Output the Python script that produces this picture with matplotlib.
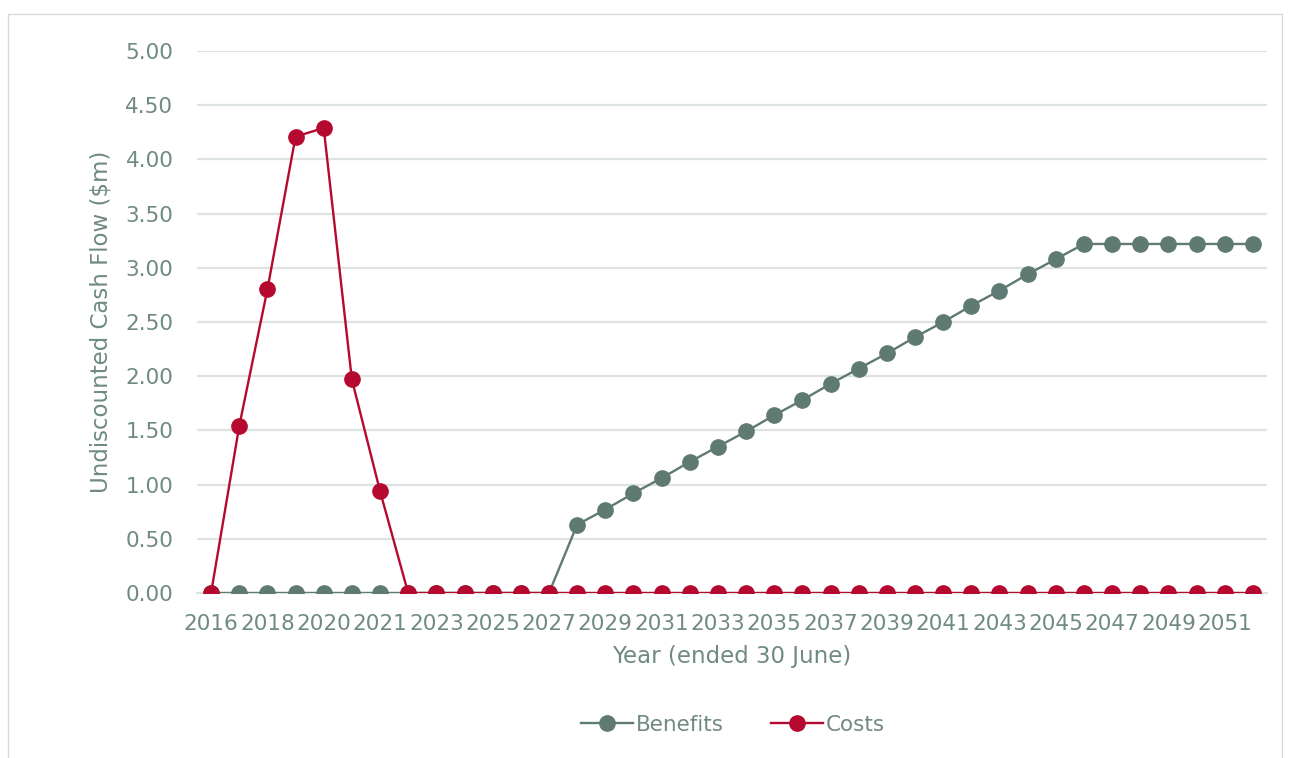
import numpy as np
import matplotlib.pyplot as plt
from matplotlib.patches import Rectangle

# year labels as shown on the category axis (source repeats 2020)
years = ['2016', '2017', '2018', '2019', '2020', '2020', '2021', '2022',
         '2023', '2024', '2025', '2026', '2027', '2028', '2029', '2030',
         '2031', '2032', '2033', '2034', '2035', '2036', '2037', '2038',
         '2039', '2040', '2041', '2042', '2043', '2044', '2045', '2046',
         '2047', '2048', '2049', '2050', '2051', '2052']

benefits = [0, 0, 0, 0, 0, 0, 0, 0, 0, 0, 0, 0, 0,
            0.63, 0.77, 0.92, 1.06, 1.21, 1.35, 1.49, 1.64, 1.78, 1.93,
            2.07, 2.21, 2.36, 2.50, 2.65, 2.79, 2.94, 3.08, 3.22,
            3.22, 3.22, 3.22, 3.22, 3.22, 3.22]

costs = [0, 1.54, 2.80, 4.21, 4.29, 1.97, 0.94] + [0] * 31

yticks = [0, 0.5, 1.0, 1.5, 2.0, 2.5, 3.0, 3.5, 4.0, 4.5, 5.0]

text_col = '#6f8a83'
ben_col = '#5f7a72'
cost_col = '#b5092f'
grid_col = '#dde3e1'

fig = plt.figure(figsize=(12.92, 7.58), dpi=100)
ax = fig.add_axes([197 / 1292, 1 - 593 / 758, (1267 - 197) / 1292, (593 - 51) / 758])

x = np.arange(len(years))
ax.plot(x, benefits, '-o', color=ben_col, lw=1.7, ms=11, label='Benefits', zorder=3)
ax.plot(x, costs, '-o', color=cost_col, lw=1.7, ms=11, label='Costs', zorder=4)

ax.set_xlim(-0.5, len(years) - 0.5)
ax.set_ylim(0, 5.0)
ax.set_yticks(yticks)
ax.set_yticklabels(['%.2f' % v for v in yticks])
ax.set_xticks(x[::2])
ax.set_xticklabels(years[::2])
ax.grid(axis='y', color=grid_col, lw=1.6)
ax.set_axisbelow(True)
for s in ['top', 'right', 'left']:
    ax.spines[s].set_visible(False)
ax.spines['bottom'].set_color(grid_col)
ax.spines['bottom'].set_linewidth(1.6)
ax.tick_params(length=0, labelsize=15.5, labelcolor=text_col)
ax.tick_params(axis='x', pad=15)
ax.tick_params(axis='y', pad=17)

ax.set_ylabel('Undiscounted Cash Flow ($m)', fontsize=16.5, color=text_col, labelpad=9)
ax.set_xlabel('Year (ended 30 June)', fontsize=16.5, color=text_col, labelpad=8)

leg = fig.legend(loc='center', bbox_to_anchor=(733 / 1292, 1 - 725 / 758), ncol=2,
                 frameon=False, fontsize=15.5, handlelength=2.4, columnspacing=2.2,
                 handletextpad=0.15)
for t in leg.get_texts():
    t.set_color(text_col)

# light chart border
fig.patches.append(Rectangle((8 / 1292, -0.01), 1274 / 1292, 1 - 14 / 758 + 0.01,
                             transform=fig.transFigure, fill=False,
                             edgecolor='#d9d9d9', lw=1.0))

fig.savefig('out.png', dpi=100)
